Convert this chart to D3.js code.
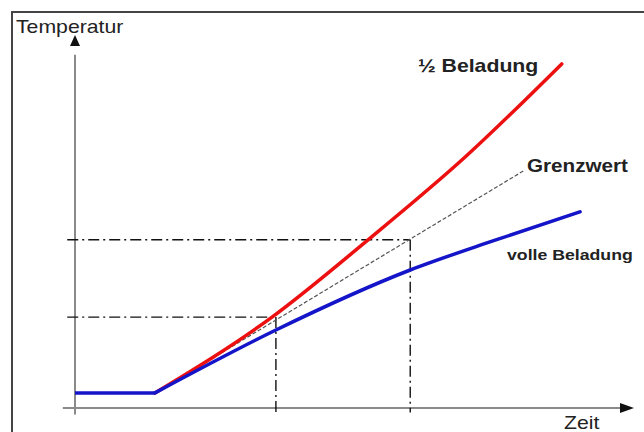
<!DOCTYPE html>
<html>
<head>
<meta charset="utf-8">
<script src="https://cdn.jsdelivr.net/npm/d3@7"></script>
<style>
  body { margin: 0; background: #fff; }
  svg text { font-family: Arial, "Liberation Sans", sans-serif; fill: #222; }
</style>
</head>
<body>
<div id="chart"></div>
<script>
// curves, in arbitrary time / temperature units
var halfLoad = [[1.44, 0.41], [3.55, 2.47], [5.28, 4.57], [7.03, 6.82], [8.77, 9.35]];
var fullLoadFlat = [[0, 0.41], [1.44, 0.41]];
var fullLoad = [[1.44, 0.41], [3.62, 2.12], [6.04, 3.75], [7.57, 4.56], [9.10, 5.33]];
var limitLine = [[1.44, 0.41], [8.11, 6.47]];
// reference values
var refTemps = [2.47, 4.57];
var refTimes = [3.62, 6.04];

var width = 644, height = 432;

var svg = d3.select('#chart').append('svg')
	.attr('width', width)
	.attr('height', height);

var x = d3.scaleLinear().domain([0, 10]).range([75, 630]);
var y = d3.scaleLinear().domain([0, 10]).range([408, 40]);

// frame (cut off at right and bottom like the scan)
svg.append('rect')
	.attr('x', 12).attr('y', 12)
	.attr('width', 700).attr('height', 500)
	.attr('fill', 'none')
	.attr('stroke', '#444')
	.attr('stroke-width', 2);

// axes
svg.append('line')
	.attr('x1', x(-0.22)).attr('x2', x(9.9))
	.attr('y1', y(0)).attr('y2', y(0))
	.attr('stroke', '#8a8a8a').attr('stroke-width', 2);
svg.append('line')
	.attr('x1', x(0)).attr('x2', x(0))
	.attr('y1', y(-0.18)).attr('y2', y(9.6))
	.attr('stroke', '#8a8a8a').attr('stroke-width', 2);

// arrowheads
svg.append('path')
	.attr('d', 'M' + (x(10) + 4) + ',' + y(0) + 'l-14,-5l0,10z')
	.attr('fill', '#111');
svg.append('path')
	.attr('d', 'M' + x(0) + ',' + (y(10) - 5) + 'l-5,11l10,0z')
	.attr('fill', '#111');

// dash-dot helper lines
var dashDot = '11,4,2,4';
refTemps.forEach(function(t, i) {
	svg.append('line')
		.attr('x1', x(-0.14)).attr('x2', x(refTimes[i]))
		.attr('y1', y(t)).attr('y2', y(t))
		.attr('stroke', '#111').attr('stroke-width', 1.4)
		.attr('stroke-dasharray', dashDot);
	svg.append('line')
		.attr('x1', x(refTimes[i])).attr('x2', x(refTimes[i]))
		.attr('y1', y(t)).attr('y2', y(-0.12))
		.attr('stroke', '#111').attr('stroke-width', 1.4)
		.attr('stroke-dasharray', dashDot);
});

var line = d3.line()
	.x(function(d) { return x(d[0]); })
	.y(function(d) { return y(d[1]); });
var smooth = d3.line()
	.x(function(d) { return x(d[0]); })
	.y(function(d) { return y(d[1]); })
	.curve(d3.curveMonotoneX);

// Grenzwert
svg.append('path')
	.attr('d', line(limitLine))
	.attr('fill', 'none')
	.attr('stroke', '#555')
	.attr('stroke-width', 1.2)
	.attr('stroke-dasharray', '4,2');

svg.append('path')
	.attr('d', smooth(halfLoad))
	.attr('fill', 'none')
	.attr('stroke', '#ec1010')
	.attr('stroke-width', 3.5)
	.attr('stroke-linecap', 'round');

svg.append('path')
	.attr('d', line(fullLoadFlat))
	.attr('fill', 'none')
	.attr('stroke', '#1414c8')
	.attr('stroke-width', 3.5);
svg.append('path')
	.attr('d', smooth(fullLoad))
	.attr('fill', 'none')
	.attr('stroke', '#1414c8')
	.attr('stroke-width', 3.5)
	.attr('stroke-linecap', 'round');

// labels (the scan is stretched horizontally, hence the scale)
function label(txt, px, py, size, bold) {
	svg.append('text')
		.attr('transform', 'translate(' + px + ',' + py + ') scale(1.18,1)')
		.attr('font-size', size)
		.attr('font-weight', bold ? 'bold' : 'normal')
		.text(txt);
}
label('Temperatur', 16, 33, 18, false);
label('\u00BD Beladung', 418, 72, 18, true);
label('Grenzwert', 527, 172, 17.5, true);
label('volle Beladung', 507, 260, 15, true);
label('Zeit', 564, 429, 18, false);
</script>
</body>
</html>
